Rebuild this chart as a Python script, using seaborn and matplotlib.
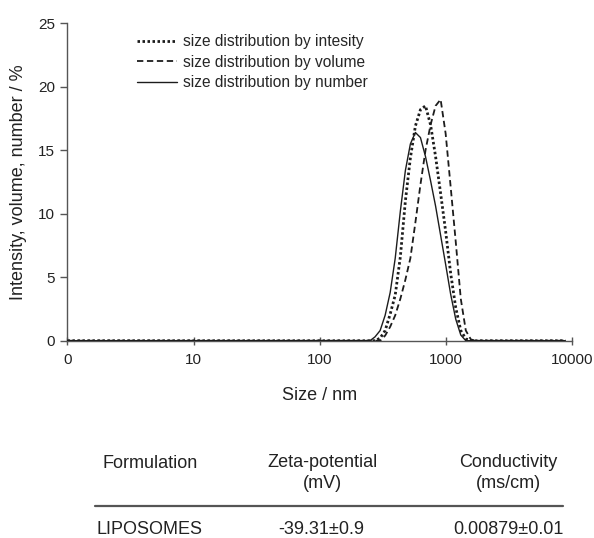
import numpy as np
import pandas as pd
import matplotlib
matplotlib.use("Agg")
import matplotlib.pyplot as plt
import seaborn as sns
from matplotlib.lines import Line2D

# ---- data ----
sizes_nm = [1, 251, 275, 302, 331, 363, 398, 437, 479, 525, 575, 631, 692, 759,
            832, 912, 1000, 1096, 1202, 1318, 1445, 1585, 1738, 1905, 8900]
intensity = [0, 0, 0, 0.2, 0.8, 2.1, 3.6, 6.6, 11.0, 14.4, 16.9, 18.2, 18.5, 17.0,
             14.5, 11.6, 8.6, 5.3, 2.6, 0.8, 0.15, 0, 0, 0, 0]
volume = [0, 0, 0, 0, 0.4, 1.1, 2.0, 3.3, 4.8, 6.5, 9.3, 12.3, 15.0, 17.0,
          18.5, 19.0, 16.3, 12.1, 7.8, 3.3, 0.8, 0.1, 0, 0, 0]
number = [0, 0, 0.3, 0.8, 2.0, 3.8, 6.5, 10.2, 13.4, 15.5, 16.4, 16.0, 14.5, 12.6,
          10.6, 8.3, 6.0, 3.65, 1.7, 0.45, 0, 0, 0, 0, 0]
series_labels = ["size distribution by intesity", "size distribution by volume",
                 "size distribution by number"]
x_ticks = [1, 10, 100, 1000, 10000]
x_tick_labels = ["0", "10", "100", "1000", "10000"]
y_ticks = [0, 5, 10, 15, 20, 25]

table_header = ["Formulation", "Zeta-potential\n(mV)", "Conductivity\n(ms/cm)"]
table_row = ["LIPOSOMES", "-39.31\u00b10.9", "0.00879\u00b10.01"]

# ---- style ----
sns.set_style("ticks")
plt.rcParams["font.family"] = ["Liberation Sans", "DejaVu Sans"]

fig = plt.figure(figsize=(5.94, 5.38), dpi=100)
ax = fig.add_axes([0.1136, 0.3667, 0.8489, 0.59])

df = pd.DataFrame({"size": sizes_nm, "intensity": intensity,
                   "volume": volume, "number": number})
line_col = "#1c1c1c"
sns.lineplot(data=df, x="size", y="number", ax=ax, color=line_col, lw=1.0,
             label=series_labels[2], zorder=3)
sns.lineplot(data=df, x="size", y="volume", ax=ax, color=line_col, lw=1.3,
             linestyle=(0, (3.5, 2.0)), label=series_labels[1], zorder=4)
sns.lineplot(data=df, x="size", y="intensity", ax=ax, color=line_col, lw=2.0,
             linestyle=(0, (0.9, 0.9)), label=series_labels[0], zorder=5)

ax.set_xscale("log")
ax.set_xlim(1, 10000)
ax.set_ylim(0, 25)
ax.set_xticks(x_ticks)
ax.set_xticklabels(x_tick_labels)
ax.xaxis.set_minor_locator(matplotlib.ticker.NullLocator())
ax.set_yticks(y_ticks)
ax.tick_params(axis="x", direction="inout", length=6, width=1, colors="#555555",
               labelcolor="#222222", labelsize=11, pad=6)
ax.tick_params(axis="y", direction="out", length=5, width=1, colors="#555555",
               labelcolor="#222222", labelsize=11, pad=4)
for s in ["top", "right"]:
    ax.spines[s].set_visible(False)
for s in ["left", "bottom"]:
    ax.spines[s].set_color("#555555")
    ax.spines[s].set_linewidth(1.0)

ax.set_xlabel("Size / nm", fontsize=13, color="#222222", labelpad=14)
ax.set_ylabel("Intensity, volume, number / %", fontsize=13, color="#222222")
ax.yaxis.set_label_coords(-0.08, 0.5)

h, l = ax.get_legend_handles_labels()
order = [series_labels.index(x) for x in l]
pairs = sorted(zip(order, h, l))
ax.legend([p[1] for p in pairs], [p[2] for p in pairs], loc="upper left",
          bbox_to_anchor=(0.125, 0.985), frameon=False, fontsize=11.2,
          handlelength=2.6, handletextpad=0.4, labelspacing=0.36,
          borderaxespad=0)

# ---- table ----
W, H = 594, 538
def fx(px):
    return px / W
def fy(py):
    return 1 - py / H

txt_kw = dict(fontsize=13, color="#222222", ha="center", va="center",
              linespacing=1.25)
fig.text(fx(150), fy(463), table_header[0], **txt_kw)
fig.text(fx(322), fy(473), table_header[1], **txt_kw)
fig.text(fx(508), fy(473), table_header[2], **txt_kw)
fig.add_artist(Line2D([fx(95), fx(563)], [fy(506), fy(506)],
                      color="#555555", lw=1.6, transform=fig.transFigure))
fig.text(fx(150), fy(530), table_row[0], **txt_kw)
fig.text(fx(321), fy(530), table_row[1], **txt_kw)
fig.text(fx(508), fy(530), table_row[2], **txt_kw)

fig.savefig("out.png", dpi=100)
